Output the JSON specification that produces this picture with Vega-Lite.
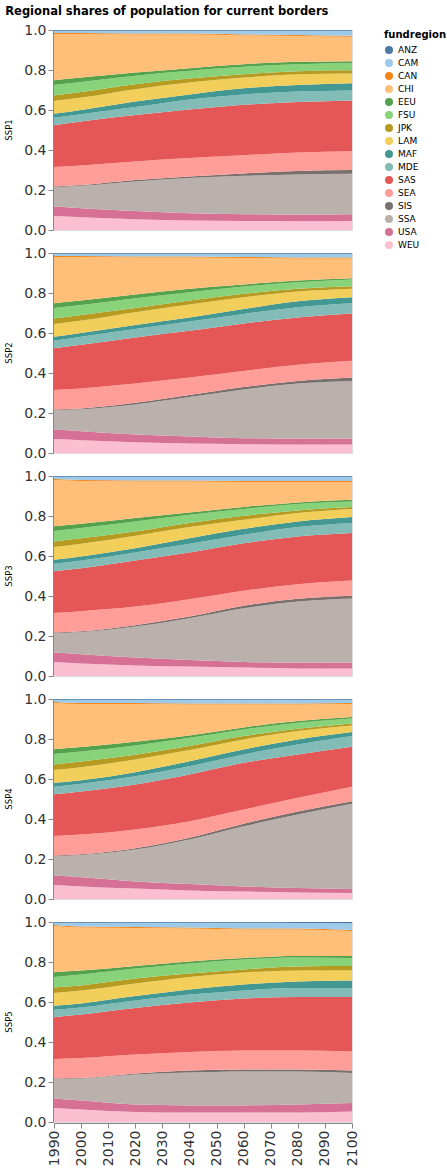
{
"$schema": "https://vega.github.io/schema/vega-lite/v6.json",
"title": {"text": "Regional shares of population for current borders", "anchor": "start", "fontSize": 11.5, "fontWeight": "bold", "font": "DejaVu Sans", "offset": 6},
"config": {"font": "DejaVu Sans", "view": {"stroke": "#ddd"}},
"spacing": 21,
"data": {"values": [
{"ssp":"SSP1","year":1990,"fundregion":"WEU","share":0.070},{"ssp":"SSP1","year":1990,"fundregion":"USA","share":0.047},{"ssp":"SSP1","year":1990,"fundregion":"SSA","share":0.097},{"ssp":"SSP1","year":1990,"fundregion":"SIS","share":0.004},{"ssp":"SSP1","year":1990,"fundregion":"SEA","share":0.097},{"ssp":"SSP1","year":1990,"fundregion":"SAS","share":0.209},{"ssp":"SSP1","year":1990,"fundregion":"MDE","share":0.037},{"ssp":"SSP1","year":1990,"fundregion":"MAF","share":0.020},{"ssp":"SSP1","year":1990,"fundregion":"LAM","share":0.064},{"ssp":"SSP1","year":1990,"fundregion":"JPK","share":0.028},{"ssp":"SSP1","year":1990,"fundregion":"FSU","share":0.052},{"ssp":"SSP1","year":1990,"fundregion":"EEU","share":0.024},{"ssp":"SSP1","year":1990,"fundregion":"CHI","share":0.231},{"ssp":"SSP1","year":1990,"fundregion":"CAN","share":0.005},{"ssp":"SSP1","year":1990,"fundregion":"CAM","share":0.011},{"ssp":"SSP1","year":1990,"fundregion":"ANZ","share":0.004},
{"ssp":"SSP1","year":2000,"fundregion":"WEU","share":0.064},{"ssp":"SSP1","year":2000,"fundregion":"USA","share":0.045},{"ssp":"SSP1","year":2000,"fundregion":"SSA","share":0.112},{"ssp":"SSP1","year":2000,"fundregion":"SIS","share":0.004},{"ssp":"SSP1","year":2000,"fundregion":"SEA","share":0.098},{"ssp":"SSP1","year":2000,"fundregion":"SAS","share":0.220},{"ssp":"SSP1","year":2000,"fundregion":"MDE","share":0.036},{"ssp":"SSP1","year":2000,"fundregion":"MAF","share":0.021},{"ssp":"SSP1","year":2000,"fundregion":"LAM","share":0.062},{"ssp":"SSP1","year":2000,"fundregion":"JPK","share":0.028},{"ssp":"SSP1","year":2000,"fundregion":"FSU","share":0.050},{"ssp":"SSP1","year":2000,"fundregion":"EEU","share":0.022},{"ssp":"SSP1","year":2000,"fundregion":"CHI","share":0.218},{"ssp":"SSP1","year":2000,"fundregion":"CAN","share":0.005},{"ssp":"SSP1","year":2000,"fundregion":"CAM","share":0.011},{"ssp":"SSP1","year":2000,"fundregion":"ANZ","share":0.004},
{"ssp":"SSP1","year":2020,"fundregion":"WEU","share":0.054},{"ssp":"SSP1","year":2020,"fundregion":"USA","share":0.041},{"ssp":"SSP1","year":2020,"fundregion":"SSA","share":0.148},{"ssp":"SSP1","year":2020,"fundregion":"SIS","share":0.007},{"ssp":"SSP1","year":2020,"fundregion":"SEA","share":0.093},{"ssp":"SSP1","year":2020,"fundregion":"SAS","share":0.232},{"ssp":"SSP1","year":2020,"fundregion":"MDE","share":0.040},{"ssp":"SSP1","year":2020,"fundregion":"MAF","share":0.027},{"ssp":"SSP1","year":2020,"fundregion":"LAM","share":0.062},{"ssp":"SSP1","year":2020,"fundregion":"JPK","share":0.025},{"ssp":"SSP1","year":2020,"fundregion":"FSU","share":0.042},{"ssp":"SSP1","year":2020,"fundregion":"EEU","share":0.016},{"ssp":"SSP1","year":2020,"fundregion":"CHI","share":0.191},{"ssp":"SSP1","year":2020,"fundregion":"CAN","share":0.005},{"ssp":"SSP1","year":2020,"fundregion":"CAM","share":0.013},{"ssp":"SSP1","year":2020,"fundregion":"ANZ","share":0.004},
{"ssp":"SSP1","year":2040,"fundregion":"WEU","share":0.047},{"ssp":"SSP1","year":2040,"fundregion":"USA","share":0.037},{"ssp":"SSP1","year":2040,"fundregion":"SSA","share":0.176},{"ssp":"SSP1","year":2040,"fundregion":"SIS","share":0.008},{"ssp":"SSP1","year":2040,"fundregion":"SEA","share":0.092},{"ssp":"SSP1","year":2040,"fundregion":"SAS","share":0.243},{"ssp":"SSP1","year":2040,"fundregion":"MDE","share":0.050},{"ssp":"SSP1","year":2040,"fundregion":"MAF","share":0.025},{"ssp":"SSP1","year":2040,"fundregion":"LAM","share":0.059},{"ssp":"SSP1","year":2040,"fundregion":"JPK","share":0.020},{"ssp":"SSP1","year":2040,"fundregion":"FSU","share":0.039},{"ssp":"SSP1","year":2040,"fundregion":"EEU","share":0.013},{"ssp":"SSP1","year":2040,"fundregion":"CHI","share":0.168},{"ssp":"SSP1","year":2040,"fundregion":"CAN","share":0.005},{"ssp":"SSP1","year":2040,"fundregion":"CAM","share":0.014},{"ssp":"SSP1","year":2040,"fundregion":"ANZ","share":0.004},
{"ssp":"SSP1","year":2060,"fundregion":"WEU","share":0.045},{"ssp":"SSP1","year":2060,"fundregion":"USA","share":0.034},{"ssp":"SSP1","year":2060,"fundregion":"SSA","share":0.192},{"ssp":"SSP1","year":2060,"fundregion":"SIS","share":0.012},{"ssp":"SSP1","year":2060,"fundregion":"SEA","share":0.091},{"ssp":"SSP1","year":2060,"fundregion":"SAS","share":0.252},{"ssp":"SSP1","year":2060,"fundregion":"MDE","share":0.052},{"ssp":"SSP1","year":2060,"fundregion":"MAF","share":0.031},{"ssp":"SSP1","year":2060,"fundregion":"LAM","share":0.053},{"ssp":"SSP1","year":2060,"fundregion":"JPK","share":0.017},{"ssp":"SSP1","year":2060,"fundregion":"FSU","share":0.037},{"ssp":"SSP1","year":2060,"fundregion":"EEU","share":0.013},{"ssp":"SSP1","year":2060,"fundregion":"CHI","share":0.144},{"ssp":"SSP1","year":2060,"fundregion":"CAN","share":0.005},{"ssp":"SSP1","year":2060,"fundregion":"CAM","share":0.018},{"ssp":"SSP1","year":2060,"fundregion":"ANZ","share":0.004},
{"ssp":"SSP1","year":2080,"fundregion":"WEU","share":0.044},{"ssp":"SSP1","year":2080,"fundregion":"USA","share":0.033},{"ssp":"SSP1","year":2080,"fundregion":"SSA","share":0.201},{"ssp":"SSP1","year":2080,"fundregion":"SIS","share":0.017},{"ssp":"SSP1","year":2080,"fundregion":"SEA","share":0.092},{"ssp":"SSP1","year":2080,"fundregion":"SAS","share":0.253},{"ssp":"SSP1","year":2080,"fundregion":"MDE","share":0.052},{"ssp":"SSP1","year":2080,"fundregion":"MAF","share":0.033},{"ssp":"SSP1","year":2080,"fundregion":"LAM","share":0.054},{"ssp":"SSP1","year":2080,"fundregion":"JPK","share":0.015},{"ssp":"SSP1","year":2080,"fundregion":"FSU","share":0.035},{"ssp":"SSP1","year":2080,"fundregion":"EEU","share":0.012},{"ssp":"SSP1","year":2080,"fundregion":"CHI","share":0.129},{"ssp":"SSP1","year":2080,"fundregion":"CAN","share":0.005},{"ssp":"SSP1","year":2080,"fundregion":"CAM","share":0.021},{"ssp":"SSP1","year":2080,"fundregion":"ANZ","share":0.004},
{"ssp":"SSP1","year":2100,"fundregion":"WEU","share":0.045},{"ssp":"SSP1","year":2100,"fundregion":"USA","share":0.034},{"ssp":"SSP1","year":2100,"fundregion":"SSA","share":0.202},{"ssp":"SSP1","year":2100,"fundregion":"SIS","share":0.019},{"ssp":"SSP1","year":2100,"fundregion":"SEA","share":0.094},{"ssp":"SSP1","year":2100,"fundregion":"SAS","share":0.254},{"ssp":"SSP1","year":2100,"fundregion":"MDE","share":0.050},{"ssp":"SSP1","year":2100,"fundregion":"MAF","share":0.036},{"ssp":"SSP1","year":2100,"fundregion":"LAM","share":0.048},{"ssp":"SSP1","year":2100,"fundregion":"JPK","share":0.017},{"ssp":"SSP1","year":2100,"fundregion":"FSU","share":0.035},{"ssp":"SSP1","year":2100,"fundregion":"EEU","share":0.010},{"ssp":"SSP1","year":2100,"fundregion":"CHI","share":0.122},{"ssp":"SSP1","year":2100,"fundregion":"CAN","share":0.005},{"ssp":"SSP1","year":2100,"fundregion":"CAM","share":0.025},{"ssp":"SSP1","year":2100,"fundregion":"ANZ","share":0.004},

{"ssp":"SSP2","year":1990,"fundregion":"WEU","share":0.070},{"ssp":"SSP2","year":1990,"fundregion":"USA","share":0.047},{"ssp":"SSP2","year":1990,"fundregion":"SSA","share":0.097},{"ssp":"SSP2","year":1990,"fundregion":"SIS","share":0.004},{"ssp":"SSP2","year":1990,"fundregion":"SEA","share":0.097},{"ssp":"SSP2","year":1990,"fundregion":"SAS","share":0.209},{"ssp":"SSP2","year":1990,"fundregion":"MDE","share":0.037},{"ssp":"SSP2","year":1990,"fundregion":"MAF","share":0.020},{"ssp":"SSP2","year":1990,"fundregion":"LAM","share":0.064},{"ssp":"SSP2","year":1990,"fundregion":"JPK","share":0.028},{"ssp":"SSP2","year":1990,"fundregion":"FSU","share":0.052},{"ssp":"SSP2","year":1990,"fundregion":"EEU","share":0.024},{"ssp":"SSP2","year":1990,"fundregion":"CHI","share":0.231},{"ssp":"SSP2","year":1990,"fundregion":"CAN","share":0.005},{"ssp":"SSP2","year":1990,"fundregion":"CAM","share":0.011},{"ssp":"SSP2","year":1990,"fundregion":"ANZ","share":0.004},
{"ssp":"SSP2","year":2000,"fundregion":"WEU","share":0.064},{"ssp":"SSP2","year":2000,"fundregion":"USA","share":0.045},{"ssp":"SSP2","year":2000,"fundregion":"SSA","share":0.110},{"ssp":"SSP2","year":2000,"fundregion":"SIS","share":0.004},{"ssp":"SSP2","year":2000,"fundregion":"SEA","share":0.100},{"ssp":"SSP2","year":2000,"fundregion":"SAS","share":0.218},{"ssp":"SSP2","year":2000,"fundregion":"MDE","share":0.040},{"ssp":"SSP2","year":2000,"fundregion":"MAF","share":0.019},{"ssp":"SSP2","year":2000,"fundregion":"LAM","share":0.062},{"ssp":"SSP2","year":2000,"fundregion":"JPK","share":0.028},{"ssp":"SSP2","year":2000,"fundregion":"FSU","share":0.050},{"ssp":"SSP2","year":2000,"fundregion":"EEU","share":0.022},{"ssp":"SSP2","year":2000,"fundregion":"CHI","share":0.218},{"ssp":"SSP2","year":2000,"fundregion":"CAN","share":0.005},{"ssp":"SSP2","year":2000,"fundregion":"CAM","share":0.011},{"ssp":"SSP2","year":2000,"fundregion":"ANZ","share":0.004},
{"ssp":"SSP2","year":2020,"fundregion":"WEU","share":0.054},{"ssp":"SSP2","year":2020,"fundregion":"USA","share":0.038},{"ssp":"SSP2","year":2020,"fundregion":"SSA","share":0.151},{"ssp":"SSP2","year":2020,"fundregion":"SIS","share":0.008},{"ssp":"SSP2","year":2020,"fundregion":"SEA","share":0.096},{"ssp":"SSP2","year":2020,"fundregion":"SAS","share":0.231},{"ssp":"SSP2","year":2020,"fundregion":"MDE","share":0.042},{"ssp":"SSP2","year":2020,"fundregion":"MAF","share":0.020},{"ssp":"SSP2","year":2020,"fundregion":"LAM","share":0.064},{"ssp":"SSP2","year":2020,"fundregion":"JPK","share":0.021},{"ssp":"SSP2","year":2020,"fundregion":"FSU","share":0.049},{"ssp":"SSP2","year":2020,"fundregion":"EEU","share":0.018},{"ssp":"SSP2","year":2020,"fundregion":"CHI","share":0.186},{"ssp":"SSP2","year":2020,"fundregion":"CAN","share":0.005},{"ssp":"SSP2","year":2020,"fundregion":"CAM","share":0.013},{"ssp":"SSP2","year":2020,"fundregion":"ANZ","share":0.004},
{"ssp":"SSP2","year":2040,"fundregion":"WEU","share":0.047},{"ssp":"SSP2","year":2040,"fundregion":"USA","share":0.035},{"ssp":"SSP2","year":2040,"fundregion":"SSA","share":0.198},{"ssp":"SSP2","year":2040,"fundregion":"SIS","share":0.010},{"ssp":"SSP2","year":2040,"fundregion":"SEA","share":0.087},{"ssp":"SSP2","year":2040,"fundregion":"SAS","share":0.234},{"ssp":"SSP2","year":2040,"fundregion":"MDE","share":0.047},{"ssp":"SSP2","year":2040,"fundregion":"MAF","share":0.020},{"ssp":"SSP2","year":2040,"fundregion":"LAM","share":0.064},{"ssp":"SSP2","year":2040,"fundregion":"JPK","share":0.020},{"ssp":"SSP2","year":2040,"fundregion":"FSU","share":0.042},{"ssp":"SSP2","year":2040,"fundregion":"EEU","share":0.017},{"ssp":"SSP2","year":2040,"fundregion":"CHI","share":0.156},{"ssp":"SSP2","year":2040,"fundregion":"CAN","share":0.005},{"ssp":"SSP2","year":2040,"fundregion":"CAM","share":0.014},{"ssp":"SSP2","year":2040,"fundregion":"ANZ","share":0.004},
{"ssp":"SSP2","year":2060,"fundregion":"WEU","share":0.044},{"ssp":"SSP2","year":2060,"fundregion":"USA","share":0.030},{"ssp":"SSP2","year":2060,"fundregion":"SSA","share":0.244},{"ssp":"SSP2","year":2060,"fundregion":"SIS","share":0.012},{"ssp":"SSP2","year":2060,"fundregion":"SEA","share":0.080},{"ssp":"SSP2","year":2060,"fundregion":"SAS","share":0.238},{"ssp":"SSP2","year":2060,"fundregion":"MDE","share":0.047},{"ssp":"SSP2","year":2060,"fundregion":"MAF","share":0.025},{"ssp":"SSP2","year":2060,"fundregion":"LAM","share":0.059},{"ssp":"SSP2","year":2060,"fundregion":"JPK","share":0.017},{"ssp":"SSP2","year":2060,"fundregion":"FSU","share":0.036},{"ssp":"SSP2","year":2060,"fundregion":"EEU","share":0.011},{"ssp":"SSP2","year":2060,"fundregion":"CHI","share":0.132},{"ssp":"SSP2","year":2060,"fundregion":"CAN","share":0.005},{"ssp":"SSP2","year":2060,"fundregion":"CAM","share":0.016},{"ssp":"SSP2","year":2060,"fundregion":"ANZ","share":0.004},
{"ssp":"SSP2","year":2080,"fundregion":"WEU","share":0.042},{"ssp":"SSP2","year":2080,"fundregion":"USA","share":0.030},{"ssp":"SSP2","year":2080,"fundregion":"SSA","share":0.275},{"ssp":"SSP2","year":2080,"fundregion":"SIS","share":0.013},{"ssp":"SSP2","year":2080,"fundregion":"SEA","share":0.081},{"ssp":"SSP2","year":2080,"fundregion":"SAS","share":0.237},{"ssp":"SSP2","year":2080,"fundregion":"MDE","share":0.051},{"ssp":"SSP2","year":2080,"fundregion":"MAF","share":0.030},{"ssp":"SSP2","year":2080,"fundregion":"LAM","share":0.048},{"ssp":"SSP2","year":2080,"fundregion":"JPK","share":0.014},{"ssp":"SSP2","year":2080,"fundregion":"FSU","share":0.033},{"ssp":"SSP2","year":2080,"fundregion":"EEU","share":0.009},{"ssp":"SSP2","year":2080,"fundregion":"CHI","share":0.110},{"ssp":"SSP2","year":2080,"fundregion":"CAN","share":0.005},{"ssp":"SSP2","year":2080,"fundregion":"CAM","share":0.018},{"ssp":"SSP2","year":2080,"fundregion":"ANZ","share":0.004},
{"ssp":"SSP2","year":2100,"fundregion":"WEU","share":0.042},{"ssp":"SSP2","year":2100,"fundregion":"USA","share":0.030},{"ssp":"SSP2","year":2100,"fundregion":"SSA","share":0.288},{"ssp":"SSP2","year":2100,"fundregion":"SIS","share":0.017},{"ssp":"SSP2","year":2100,"fundregion":"SEA","share":0.084},{"ssp":"SSP2","year":2100,"fundregion":"SAS","share":0.237},{"ssp":"SSP2","year":2100,"fundregion":"MDE","share":0.051},{"ssp":"SSP2","year":2100,"fundregion":"MAF","share":0.030},{"ssp":"SSP2","year":2100,"fundregion":"LAM","share":0.042},{"ssp":"SSP2","year":2100,"fundregion":"JPK","share":0.013},{"ssp":"SSP2","year":2100,"fundregion":"FSU","share":0.034},{"ssp":"SSP2","year":2100,"fundregion":"EEU","share":0.006},{"ssp":"SSP2","year":2100,"fundregion":"CHI","share":0.098},{"ssp":"SSP2","year":2100,"fundregion":"CAN","share":0.005},{"ssp":"SSP2","year":2100,"fundregion":"CAM","share":0.019},{"ssp":"SSP2","year":2100,"fundregion":"ANZ","share":0.004},

{"ssp":"SSP3","year":1990,"fundregion":"WEU","share":0.070},{"ssp":"SSP3","year":1990,"fundregion":"USA","share":0.047},{"ssp":"SSP3","year":1990,"fundregion":"SSA","share":0.097},{"ssp":"SSP3","year":1990,"fundregion":"SIS","share":0.004},{"ssp":"SSP3","year":1990,"fundregion":"SEA","share":0.097},{"ssp":"SSP3","year":1990,"fundregion":"SAS","share":0.209},{"ssp":"SSP3","year":1990,"fundregion":"MDE","share":0.037},{"ssp":"SSP3","year":1990,"fundregion":"MAF","share":0.020},{"ssp":"SSP3","year":1990,"fundregion":"LAM","share":0.064},{"ssp":"SSP3","year":1990,"fundregion":"JPK","share":0.028},{"ssp":"SSP3","year":1990,"fundregion":"FSU","share":0.052},{"ssp":"SSP3","year":1990,"fundregion":"EEU","share":0.024},{"ssp":"SSP3","year":1990,"fundregion":"CHI","share":0.231},{"ssp":"SSP3","year":1990,"fundregion":"CAN","share":0.005},{"ssp":"SSP3","year":1990,"fundregion":"CAM","share":0.011},{"ssp":"SSP3","year":1990,"fundregion":"ANZ","share":0.004},
{"ssp":"SSP3","year":2000,"fundregion":"WEU","share":0.063},{"ssp":"SSP3","year":2000,"fundregion":"USA","share":0.046},{"ssp":"SSP3","year":2000,"fundregion":"SSA","share":0.111},{"ssp":"SSP3","year":2000,"fundregion":"SIS","share":0.004},{"ssp":"SSP3","year":2000,"fundregion":"SEA","share":0.100},{"ssp":"SSP3","year":2000,"fundregion":"SAS","share":0.215},{"ssp":"SSP3","year":2000,"fundregion":"MDE","share":0.039},{"ssp":"SSP3","year":2000,"fundregion":"MAF","share":0.020},{"ssp":"SSP3","year":2000,"fundregion":"LAM","share":0.063},{"ssp":"SSP3","year":2000,"fundregion":"JPK","share":0.028},{"ssp":"SSP3","year":2000,"fundregion":"FSU","share":0.051},{"ssp":"SSP3","year":2000,"fundregion":"EEU","share":0.021},{"ssp":"SSP3","year":2000,"fundregion":"CHI","share":0.214},{"ssp":"SSP3","year":2000,"fundregion":"CAN","share":0.005},{"ssp":"SSP3","year":2000,"fundregion":"CAM","share":0.016},{"ssp":"SSP3","year":2000,"fundregion":"ANZ","share":0.004},
{"ssp":"SSP3","year":2020,"fundregion":"WEU","share":0.053},{"ssp":"SSP3","year":2020,"fundregion":"USA","share":0.039},{"ssp":"SSP3","year":2020,"fundregion":"SSA","share":0.155},{"ssp":"SSP3","year":2020,"fundregion":"SIS","share":0.007},{"ssp":"SSP3","year":2020,"fundregion":"SEA","share":0.093},{"ssp":"SSP3","year":2020,"fundregion":"SAS","share":0.231},{"ssp":"SSP3","year":2020,"fundregion":"MDE","share":0.040},{"ssp":"SSP3","year":2020,"fundregion":"MAF","share":0.021},{"ssp":"SSP3","year":2020,"fundregion":"LAM","share":0.062},{"ssp":"SSP3","year":2020,"fundregion":"JPK","share":0.022},{"ssp":"SSP3","year":2020,"fundregion":"FSU","share":0.050},{"ssp":"SSP3","year":2020,"fundregion":"EEU","share":0.017},{"ssp":"SSP3","year":2020,"fundregion":"CHI","share":0.183},{"ssp":"SSP3","year":2020,"fundregion":"CAN","share":0.005},{"ssp":"SSP3","year":2020,"fundregion":"CAM","share":0.018},{"ssp":"SSP3","year":2020,"fundregion":"ANZ","share":0.004},
{"ssp":"SSP3","year":2040,"fundregion":"WEU","share":0.047},{"ssp":"SSP3","year":2040,"fundregion":"USA","share":0.033},{"ssp":"SSP3","year":2040,"fundregion":"SSA","share":0.209},{"ssp":"SSP3","year":2040,"fundregion":"SIS","share":0.008},{"ssp":"SSP3","year":2040,"fundregion":"SEA","share":0.087},{"ssp":"SSP3","year":2040,"fundregion":"SAS","share":0.234},{"ssp":"SSP3","year":2040,"fundregion":"MDE","share":0.043},{"ssp":"SSP3","year":2040,"fundregion":"MAF","share":0.028},{"ssp":"SSP3","year":2040,"fundregion":"LAM","share":0.056},{"ssp":"SSP3","year":2040,"fundregion":"JPK","share":0.020},{"ssp":"SSP3","year":2040,"fundregion":"FSU","share":0.041},{"ssp":"SSP3","year":2040,"fundregion":"EEU","share":0.012},{"ssp":"SSP3","year":2040,"fundregion":"CHI","share":0.154},{"ssp":"SSP3","year":2040,"fundregion":"CAN","share":0.005},{"ssp":"SSP3","year":2040,"fundregion":"CAM","share":0.019},{"ssp":"SSP3","year":2040,"fundregion":"ANZ","share":0.004},
{"ssp":"SSP3","year":2060,"fundregion":"WEU","share":0.042},{"ssp":"SSP3","year":2060,"fundregion":"USA","share":0.028},{"ssp":"SSP3","year":2060,"fundregion":"SSA","share":0.269},{"ssp":"SSP3","year":2060,"fundregion":"SIS","share":0.012},{"ssp":"SSP3","year":2060,"fundregion":"SEA","share":0.075},{"ssp":"SSP3","year":2060,"fundregion":"SAS","share":0.238},{"ssp":"SSP3","year":2060,"fundregion":"MDE","share":0.042},{"ssp":"SSP3","year":2060,"fundregion":"MAF","share":0.030},{"ssp":"SSP3","year":2060,"fundregion":"LAM","share":0.045},{"ssp":"SSP3","year":2060,"fundregion":"JPK","share":0.020},{"ssp":"SSP3","year":2060,"fundregion":"FSU","share":0.034},{"ssp":"SSP3","year":2060,"fundregion":"EEU","share":0.010},{"ssp":"SSP3","year":2060,"fundregion":"CHI","share":0.125},{"ssp":"SSP3","year":2060,"fundregion":"CAN","share":0.005},{"ssp":"SSP3","year":2060,"fundregion":"CAM","share":0.021},{"ssp":"SSP3","year":2060,"fundregion":"ANZ","share":0.004},
{"ssp":"SSP3","year":2080,"fundregion":"WEU","share":0.038},{"ssp":"SSP3","year":2080,"fundregion":"USA","share":0.029},{"ssp":"SSP3","year":2080,"fundregion":"SSA","share":0.305},{"ssp":"SSP3","year":2080,"fundregion":"SIS","share":0.014},{"ssp":"SSP3","year":2080,"fundregion":"SEA","share":0.073},{"ssp":"SSP3","year":2080,"fundregion":"SAS","share":0.239},{"ssp":"SSP3","year":2080,"fundregion":"MDE","share":0.047},{"ssp":"SSP3","year":2080,"fundregion":"MAF","share":0.028},{"ssp":"SSP3","year":2080,"fundregion":"LAM","share":0.042},{"ssp":"SSP3","year":2080,"fundregion":"JPK","share":0.013},{"ssp":"SSP3","year":2080,"fundregion":"FSU","share":0.032},{"ssp":"SSP3","year":2080,"fundregion":"EEU","share":0.008},{"ssp":"SSP3","year":2080,"fundregion":"CHI","share":0.102},{"ssp":"SSP3","year":2080,"fundregion":"CAN","share":0.005},{"ssp":"SSP3","year":2080,"fundregion":"CAM","share":0.021},{"ssp":"SSP3","year":2080,"fundregion":"ANZ","share":0.004},
{"ssp":"SSP3","year":2100,"fundregion":"WEU","share":0.037},{"ssp":"SSP3","year":2100,"fundregion":"USA","share":0.030},{"ssp":"SSP3","year":2100,"fundregion":"SSA","share":0.320},{"ssp":"SSP3","year":2100,"fundregion":"SIS","share":0.014},{"ssp":"SSP3","year":2100,"fundregion":"SEA","share":0.076},{"ssp":"SSP3","year":2100,"fundregion":"SAS","share":0.238},{"ssp":"SSP3","year":2100,"fundregion":"MDE","share":0.050},{"ssp":"SSP3","year":2100,"fundregion":"MAF","share":0.030},{"ssp":"SSP3","year":2100,"fundregion":"LAM","share":0.040},{"ssp":"SSP3","year":2100,"fundregion":"JPK","share":0.010},{"ssp":"SSP3","year":2100,"fundregion":"FSU","share":0.028},{"ssp":"SSP3","year":2100,"fundregion":"EEU","share":0.008},{"ssp":"SSP3","year":2100,"fundregion":"CHI","share":0.089},{"ssp":"SSP3","year":2100,"fundregion":"CAN","share":0.005},{"ssp":"SSP3","year":2100,"fundregion":"CAM","share":0.021},{"ssp":"SSP3","year":2100,"fundregion":"ANZ","share":0.004},

{"ssp":"SSP4","year":1990,"fundregion":"WEU","share":0.070},{"ssp":"SSP4","year":1990,"fundregion":"USA","share":0.047},{"ssp":"SSP4","year":1990,"fundregion":"SSA","share":0.097},{"ssp":"SSP4","year":1990,"fundregion":"SIS","share":0.004},{"ssp":"SSP4","year":1990,"fundregion":"SEA","share":0.097},{"ssp":"SSP4","year":1990,"fundregion":"SAS","share":0.209},{"ssp":"SSP4","year":1990,"fundregion":"MDE","share":0.037},{"ssp":"SSP4","year":1990,"fundregion":"MAF","share":0.020},{"ssp":"SSP4","year":1990,"fundregion":"LAM","share":0.064},{"ssp":"SSP4","year":1990,"fundregion":"JPK","share":0.028},{"ssp":"SSP4","year":1990,"fundregion":"FSU","share":0.052},{"ssp":"SSP4","year":1990,"fundregion":"EEU","share":0.024},{"ssp":"SSP4","year":1990,"fundregion":"CHI","share":0.231},{"ssp":"SSP4","year":1990,"fundregion":"CAN","share":0.005},{"ssp":"SSP4","year":1990,"fundregion":"CAM","share":0.011},{"ssp":"SSP4","year":1990,"fundregion":"ANZ","share":0.004},
{"ssp":"SSP4","year":2000,"fundregion":"WEU","share":0.063},{"ssp":"SSP4","year":2000,"fundregion":"USA","share":0.046},{"ssp":"SSP4","year":2000,"fundregion":"SSA","share":0.111},{"ssp":"SSP4","year":2000,"fundregion":"SIS","share":0.004},{"ssp":"SSP4","year":2000,"fundregion":"SEA","share":0.098},{"ssp":"SSP4","year":2000,"fundregion":"SAS","share":0.216},{"ssp":"SSP4","year":2000,"fundregion":"MDE","share":0.038},{"ssp":"SSP4","year":2000,"fundregion":"MAF","share":0.018},{"ssp":"SSP4","year":2000,"fundregion":"LAM","share":0.065},{"ssp":"SSP4","year":2000,"fundregion":"JPK","share":0.029},{"ssp":"SSP4","year":2000,"fundregion":"FSU","share":0.050},{"ssp":"SSP4","year":2000,"fundregion":"EEU","share":0.022},{"ssp":"SSP4","year":2000,"fundregion":"CHI","share":0.215},{"ssp":"SSP4","year":2000,"fundregion":"CAN","share":0.005},{"ssp":"SSP4","year":2000,"fundregion":"CAM","share":0.016},{"ssp":"SSP4","year":2000,"fundregion":"ANZ","share":0.004},
{"ssp":"SSP4","year":2020,"fundregion":"WEU","share":0.052},{"ssp":"SSP4","year":2020,"fundregion":"USA","share":0.036},{"ssp":"SSP4","year":2020,"fundregion":"SSA","share":0.159},{"ssp":"SSP4","year":2020,"fundregion":"SIS","share":0.007},{"ssp":"SSP4","year":2020,"fundregion":"SEA","share":0.093},{"ssp":"SSP4","year":2020,"fundregion":"SAS","share":0.226},{"ssp":"SSP4","year":2020,"fundregion":"MDE","share":0.041},{"ssp":"SSP4","year":2020,"fundregion":"MAF","share":0.020},{"ssp":"SSP4","year":2020,"fundregion":"LAM","share":0.064},{"ssp":"SSP4","year":2020,"fundregion":"JPK","share":0.023},{"ssp":"SSP4","year":2020,"fundregion":"FSU","share":0.047},{"ssp":"SSP4","year":2020,"fundregion":"EEU","share":0.018},{"ssp":"SSP4","year":2020,"fundregion":"CHI","share":0.189},{"ssp":"SSP4","year":2020,"fundregion":"CAN","share":0.005},{"ssp":"SSP4","year":2020,"fundregion":"CAM","share":0.016},{"ssp":"SSP4","year":2020,"fundregion":"ANZ","share":0.004},
{"ssp":"SSP4","year":2040,"fundregion":"WEU","share":0.043},{"ssp":"SSP4","year":2040,"fundregion":"USA","share":0.032},{"ssp":"SSP4","year":2040,"fundregion":"SSA","share":0.222},{"ssp":"SSP4","year":2040,"fundregion":"SIS","share":0.009},{"ssp":"SSP4","year":2040,"fundregion":"SEA","share":0.083},{"ssp":"SSP4","year":2040,"fundregion":"SAS","share":0.234},{"ssp":"SSP4","year":2040,"fundregion":"MDE","share":0.041},{"ssp":"SSP4","year":2040,"fundregion":"MAF","share":0.025},{"ssp":"SSP4","year":2040,"fundregion":"LAM","share":0.056},{"ssp":"SSP4","year":2040,"fundregion":"JPK","share":0.020},{"ssp":"SSP4","year":2040,"fundregion":"FSU","share":0.041},{"ssp":"SSP4","year":2040,"fundregion":"EEU","share":0.012},{"ssp":"SSP4","year":2040,"fundregion":"CHI","share":0.155},{"ssp":"SSP4","year":2040,"fundregion":"CAN","share":0.005},{"ssp":"SSP4","year":2040,"fundregion":"CAM","share":0.018},{"ssp":"SSP4","year":2040,"fundregion":"ANZ","share":0.004},
{"ssp":"SSP4","year":2060,"fundregion":"WEU","share":0.037},{"ssp":"SSP4","year":2060,"fundregion":"USA","share":0.026},{"ssp":"SSP4","year":2060,"fundregion":"SSA","share":0.301},{"ssp":"SSP4","year":2060,"fundregion":"SIS","share":0.012},{"ssp":"SSP4","year":2060,"fundregion":"SEA","share":0.071},{"ssp":"SSP4","year":2060,"fundregion":"SAS","share":0.234},{"ssp":"SSP4","year":2060,"fundregion":"MDE","share":0.042},{"ssp":"SSP4","year":2060,"fundregion":"MAF","share":0.025},{"ssp":"SSP4","year":2060,"fundregion":"LAM","share":0.050},{"ssp":"SSP4","year":2060,"fundregion":"JPK","share":0.017},{"ssp":"SSP4","year":2060,"fundregion":"FSU","share":0.033},{"ssp":"SSP4","year":2060,"fundregion":"EEU","share":0.010},{"ssp":"SSP4","year":2060,"fundregion":"CHI","share":0.115},{"ssp":"SSP4","year":2060,"fundregion":"CAN","share":0.005},{"ssp":"SSP4","year":2060,"fundregion":"CAM","share":0.018},{"ssp":"SSP4","year":2060,"fundregion":"ANZ","share":0.004},
{"ssp":"SSP4","year":2080,"fundregion":"WEU","share":0.033},{"ssp":"SSP4","year":2080,"fundregion":"USA","share":0.022},{"ssp":"SSP4","year":2080,"fundregion":"SSA","share":0.367},{"ssp":"SSP4","year":2080,"fundregion":"SIS","share":0.015},{"ssp":"SSP4","year":2080,"fundregion":"SEA","share":0.069},{"ssp":"SSP4","year":2080,"fundregion":"SAS","share":0.217},{"ssp":"SSP4","year":2080,"fundregion":"MDE","share":0.050},{"ssp":"SSP4","year":2080,"fundregion":"MAF","share":0.025},{"ssp":"SSP4","year":2080,"fundregion":"LAM","share":0.042},{"ssp":"SSP4","year":2080,"fundregion":"JPK","share":0.011},{"ssp":"SSP4","year":2080,"fundregion":"FSU","share":0.030},{"ssp":"SSP4","year":2080,"fundregion":"EEU","share":0.009},{"ssp":"SSP4","year":2080,"fundregion":"CHI","share":0.083},{"ssp":"SSP4","year":2080,"fundregion":"CAN","share":0.005},{"ssp":"SSP4","year":2080,"fundregion":"CAM","share":0.018},{"ssp":"SSP4","year":2080,"fundregion":"ANZ","share":0.004},
{"ssp":"SSP4","year":2100,"fundregion":"WEU","share":0.030},{"ssp":"SSP4","year":2100,"fundregion":"USA","share":0.020},{"ssp":"SSP4","year":2100,"fundregion":"SSA","share":0.426},{"ssp":"SSP4","year":2100,"fundregion":"SIS","share":0.013},{"ssp":"SSP4","year":2100,"fundregion":"SEA","share":0.072},{"ssp":"SSP4","year":2100,"fundregion":"SAS","share":0.200},{"ssp":"SSP4","year":2100,"fundregion":"MDE","share":0.054},{"ssp":"SSP4","year":2100,"fundregion":"MAF","share":0.020},{"ssp":"SSP4","year":2100,"fundregion":"LAM","share":0.033},{"ssp":"SSP4","year":2100,"fundregion":"JPK","share":0.010},{"ssp":"SSP4","year":2100,"fundregion":"FSU","share":0.024},{"ssp":"SSP4","year":2100,"fundregion":"EEU","share":0.008},{"ssp":"SSP4","year":2100,"fundregion":"CHI","share":0.065},{"ssp":"SSP4","year":2100,"fundregion":"CAN","share":0.005},{"ssp":"SSP4","year":2100,"fundregion":"CAM","share":0.016},{"ssp":"SSP4","year":2100,"fundregion":"ANZ","share":0.004},

{"ssp":"SSP5","year":1990,"fundregion":"WEU","share":0.070},{"ssp":"SSP5","year":1990,"fundregion":"USA","share":0.047},{"ssp":"SSP5","year":1990,"fundregion":"SSA","share":0.097},{"ssp":"SSP5","year":1990,"fundregion":"SIS","share":0.004},{"ssp":"SSP5","year":1990,"fundregion":"SEA","share":0.097},{"ssp":"SSP5","year":1990,"fundregion":"SAS","share":0.209},{"ssp":"SSP5","year":1990,"fundregion":"MDE","share":0.037},{"ssp":"SSP5","year":1990,"fundregion":"MAF","share":0.020},{"ssp":"SSP5","year":1990,"fundregion":"LAM","share":0.064},{"ssp":"SSP5","year":1990,"fundregion":"JPK","share":0.028},{"ssp":"SSP5","year":1990,"fundregion":"FSU","share":0.052},{"ssp":"SSP5","year":1990,"fundregion":"EEU","share":0.024},{"ssp":"SSP5","year":1990,"fundregion":"CHI","share":0.231},{"ssp":"SSP5","year":1990,"fundregion":"CAN","share":0.005},{"ssp":"SSP5","year":1990,"fundregion":"CAM","share":0.011},{"ssp":"SSP5","year":1990,"fundregion":"ANZ","share":0.004},
{"ssp":"SSP5","year":2000,"fundregion":"WEU","share":0.062},{"ssp":"SSP5","year":2000,"fundregion":"USA","share":0.045},{"ssp":"SSP5","year":2000,"fundregion":"SSA","share":0.110},{"ssp":"SSP5","year":2000,"fundregion":"SIS","share":0.003},{"ssp":"SSP5","year":2000,"fundregion":"SEA","share":0.100},{"ssp":"SSP5","year":2000,"fundregion":"SAS","share":0.217},{"ssp":"SSP5","year":2000,"fundregion":"MDE","share":0.036},{"ssp":"SSP5","year":2000,"fundregion":"MAF","share":0.020},{"ssp":"SSP5","year":2000,"fundregion":"LAM","share":0.064},{"ssp":"SSP5","year":2000,"fundregion":"JPK","share":0.026},{"ssp":"SSP5","year":2000,"fundregion":"FSU","share":0.054},{"ssp":"SSP5","year":2000,"fundregion":"EEU","share":0.020},{"ssp":"SSP5","year":2000,"fundregion":"CHI","share":0.215},{"ssp":"SSP5","year":2000,"fundregion":"CAN","share":0.005},{"ssp":"SSP5","year":2000,"fundregion":"CAM","share":0.019},{"ssp":"SSP5","year":2000,"fundregion":"ANZ","share":0.004},
{"ssp":"SSP5","year":2020,"fundregion":"WEU","share":0.050},{"ssp":"SSP5","year":2020,"fundregion":"USA","share":0.037},{"ssp":"SSP5","year":2020,"fundregion":"SSA","share":0.150},{"ssp":"SSP5","year":2020,"fundregion":"SIS","share":0.006},{"ssp":"SSP5","year":2020,"fundregion":"SEA","share":0.094},{"ssp":"SSP5","year":2020,"fundregion":"SAS","share":0.233},{"ssp":"SSP5","year":2020,"fundregion":"MDE","share":0.038},{"ssp":"SSP5","year":2020,"fundregion":"MAF","share":0.022},{"ssp":"SSP5","year":2020,"fundregion":"LAM","share":0.062},{"ssp":"SSP5","year":2020,"fundregion":"JPK","share":0.025},{"ssp":"SSP5","year":2020,"fundregion":"FSU","share":0.050},{"ssp":"SSP5","year":2020,"fundregion":"EEU","share":0.013},{"ssp":"SSP5","year":2020,"fundregion":"CHI","share":0.190},{"ssp":"SSP5","year":2020,"fundregion":"CAN","share":0.005},{"ssp":"SSP5","year":2020,"fundregion":"CAM","share":0.021},{"ssp":"SSP5","year":2020,"fundregion":"ANZ","share":0.004},
{"ssp":"SSP5","year":2040,"fundregion":"WEU","share":0.047},{"ssp":"SSP5","year":2040,"fundregion":"USA","share":0.036},{"ssp":"SSP5","year":2040,"fundregion":"SSA","share":0.164},{"ssp":"SSP5","year":2040,"fundregion":"SIS","share":0.010},{"ssp":"SSP5","year":2040,"fundregion":"SEA","share":0.093},{"ssp":"SSP5","year":2040,"fundregion":"SAS","share":0.247},{"ssp":"SSP5","year":2040,"fundregion":"MDE","share":0.040},{"ssp":"SSP5","year":2040,"fundregion":"MAF","share":0.026},{"ssp":"SSP5","year":2040,"fundregion":"LAM","share":0.062},{"ssp":"SSP5","year":2040,"fundregion":"JPK","share":0.017},{"ssp":"SSP5","year":2040,"fundregion":"FSU","share":0.050},{"ssp":"SSP5","year":2040,"fundregion":"EEU","share":0.011},{"ssp":"SSP5","year":2040,"fundregion":"CHI","share":0.164},{"ssp":"SSP5","year":2040,"fundregion":"CAN","share":0.005},{"ssp":"SSP5","year":2040,"fundregion":"CAM","share":0.024},{"ssp":"SSP5","year":2040,"fundregion":"ANZ","share":0.004},
{"ssp":"SSP5","year":2060,"fundregion":"WEU","share":0.047},{"ssp":"SSP5","year":2060,"fundregion":"USA","share":0.036},{"ssp":"SSP5","year":2060,"fundregion":"SSA","share":0.170},{"ssp":"SSP5","year":2060,"fundregion":"SIS","share":0.010},{"ssp":"SSP5","year":2060,"fundregion":"SEA","share":0.095},{"ssp":"SSP5","year":2060,"fundregion":"SAS","share":0.259},{"ssp":"SSP5","year":2060,"fundregion":"MDE","share":0.041},{"ssp":"SSP5","year":2060,"fundregion":"MAF","share":0.030},{"ssp":"SSP5","year":2060,"fundregion":"LAM","share":0.059},{"ssp":"SSP5","year":2060,"fundregion":"JPK","share":0.016},{"ssp":"SSP5","year":2060,"fundregion":"FSU","share":0.049},{"ssp":"SSP5","year":2060,"fundregion":"EEU","share":0.008},{"ssp":"SSP5","year":2060,"fundregion":"CHI","share":0.143},{"ssp":"SSP5","year":2060,"fundregion":"CAN","share":0.005},{"ssp":"SSP5","year":2060,"fundregion":"CAM","share":0.028},{"ssp":"SSP5","year":2060,"fundregion":"ANZ","share":0.004},
{"ssp":"SSP5","year":2080,"fundregion":"WEU","share":0.047},{"ssp":"SSP5","year":2080,"fundregion":"USA","share":0.040},{"ssp":"SSP5","year":2080,"fundregion":"SSA","share":0.166},{"ssp":"SSP5","year":2080,"fundregion":"SIS","share":0.010},{"ssp":"SSP5","year":2080,"fundregion":"SEA","share":0.095},{"ssp":"SSP5","year":2080,"fundregion":"SAS","share":0.267},{"ssp":"SSP5","year":2080,"fundregion":"MDE","share":0.045},{"ssp":"SSP5","year":2080,"fundregion":"MAF","share":0.033},{"ssp":"SSP5","year":2080,"fundregion":"LAM","share":0.055},{"ssp":"SSP5","year":2080,"fundregion":"JPK","share":0.020},{"ssp":"SSP5","year":2080,"fundregion":"FSU","share":0.044},{"ssp":"SSP5","year":2080,"fundregion":"EEU","share":0.008},{"ssp":"SSP5","year":2080,"fundregion":"CHI","share":0.132},{"ssp":"SSP5","year":2080,"fundregion":"CAN","share":0.005},{"ssp":"SSP5","year":2080,"fundregion":"CAM","share":0.028},{"ssp":"SSP5","year":2080,"fundregion":"ANZ","share":0.005},
{"ssp":"SSP5","year":2100,"fundregion":"WEU","share":0.053},{"ssp":"SSP5","year":2100,"fundregion":"USA","share":0.042},{"ssp":"SSP5","year":2100,"fundregion":"SSA","share":0.150},{"ssp":"SSP5","year":2100,"fundregion":"SIS","share":0.013},{"ssp":"SSP5","year":2100,"fundregion":"SEA","share":0.095},{"ssp":"SSP5","year":2100,"fundregion":"SAS","share":0.272},{"ssp":"SSP5","year":2100,"fundregion":"MDE","share":0.045},{"ssp":"SSP5","year":2100,"fundregion":"MAF","share":0.037},{"ssp":"SSP5","year":2100,"fundregion":"LAM","share":0.051},{"ssp":"SSP5","year":2100,"fundregion":"JPK","share":0.022},{"ssp":"SSP5","year":2100,"fundregion":"FSU","share":0.040},{"ssp":"SSP5","year":2100,"fundregion":"EEU","share":0.010},{"ssp":"SSP5","year":2100,"fundregion":"CHI","share":0.125},{"ssp":"SSP5","year":2100,"fundregion":"CAN","share":0.005},{"ssp":"SSP5","year":2100,"fundregion":"CAM","share":0.034},{"ssp":"SSP5","year":2100,"fundregion":"ANZ","share":0.006}
]},
"facet": {"row": {"field": "ssp", "type": "nominal", "header": {"title": null, "labelFontSize": 8.5, "labelFont": "DejaVu Sans", "labelPadding": 10}}},
"spec": {
  "width": 298,
  "height": 200,
  "mark": {"type": "area", "interpolate": "monotone"},
  "encoding": {
    "x": {"field": "year", "type": "quantitative", "scale": {"domain": [1990, 2100], "nice": false, "zero": false},
          "axis": {"title": null, "values": [1990,2000,2010,2020,2030,2040,2050,2060,2070,2080,2090,2100], "format": "d", "labelAngle": -90, "labelFontSize": 14, "labelColor": "#333"}},
    "y": {"field": "share", "type": "quantitative", "stack": "zero", "scale": {"domain": [0, 1], "nice": false},
          "axis": {"title": null, "values": [0,0.2,0.4,0.6,0.8,1.0], "format": ".1f", "labelFontSize": 14, "labelColor": "#333"}},
    "color": {"field": "fundregion", "type": "nominal", "scale": {"scheme": "tableau20"},
              "legend": {"title": "fundregion", "symbolType": "circle", "symbolSize": 64, "symbolOpacity": 1, "labelFontSize": 9, "titleFontSize": 10, "offset": 25, "rowPadding": 3}}
  }
}
}
